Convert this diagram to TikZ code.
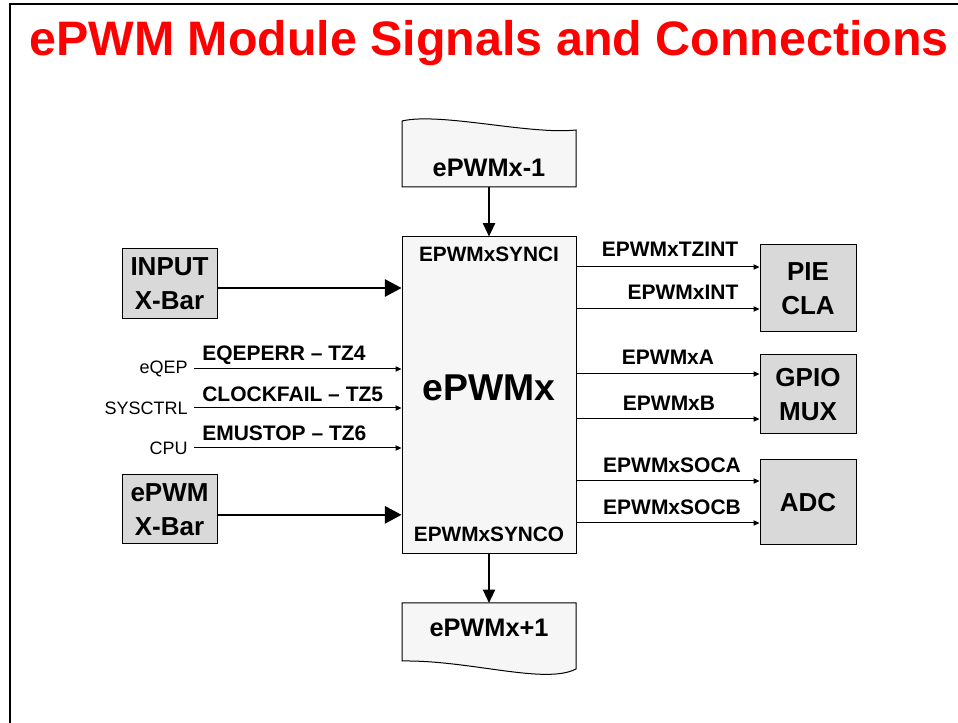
\documentclass[tikz,border=0pt]{standalone}
\usepackage{fontspec}
\setmainfont{Liberation Sans}
\usetikzlibrary{arrows.meta}

\begin{document}
\begin{tikzpicture}[x=0.75pt,y=-0.75pt,
  bus/.style={line width=1.5pt,-{Triangle[length=12.5pt,width=13pt]}},
  sig/.style={line width=0.75pt,-{Triangle[length=4.5pt,width=4pt]}},
  gbox/.style={draw,line width=0.75pt,fill=cbox,minimum width=72pt,inner sep=0pt,
    align=center,font=\fontsize{19.5}{25.5}\selectfont\bfseries},
  sigl/.style={inner sep=0pt,font=\fontsize{15.75}{18}\selectfont\bfseries},
  src/.style={anchor=east,inner xsep=4.5pt,inner ysep=0pt,font=\fontsize{13.5}{16}\selectfont}]
  \definecolor{ctitle}{RGB}{255,0,0}
  \definecolor{cbox}{RGB}{217,217,217}
  \definecolor{cpale}{RGB}{246,246,246}
  \useasboundingbox (0,0) rectangle (958,723);
  \draw[line width=1.5pt] (10,723) -- (10,4) -- (958,4);
  \node[anchor=base,text=ctitle,inner sep=0pt,font=\fontsize{36.3}{40}\selectfont\bfseries]
    (title) at (489,56) {ePWM Module Signals and Connections};
  \node[draw,line width=0.75pt,fill=cpale,minimum width=130.5pt,minimum height=237.75pt]
    (pwm) at (489,395.5) {};
  \node[font=\fontsize{28}{32}\selectfont\bfseries] (pwmname) at (489,388) {ePWMx};
  \node[sigl,font=\fontsize{15.6}{18}\selectfont\bfseries] (synci) at (489,254) {EPWMxSYNCI};
  \node[sigl,font=\fontsize{15.6}{18}\selectfont\bfseries] (synco) at (489,534) {EPWMxSYNCO};
  \filldraw[line width=0.75pt,fill=cpale] (402,121) .. controls (440,112) and (530,135) .. (576,130)
    -- (576,187) -- (402,187) -- cycle;
  \filldraw[line width=0.75pt,fill=cpale] (402,603) -- (576,603) -- (576,669)
    .. controls (545,685) and (470,660) .. (402,661) -- cycle;
  \node[font=\fontsize{19}{22}\selectfont\bfseries] (prev) at (489,168) {ePWMx-1};
  \node[font=\fontsize{19}{22}\selectfont\bfseries] (next) at (489,628) {ePWMx+1};
  \coordinate (prevb) at (489,187);
  \coordinate (nextt) at (489,603);
  \draw[bus,-{Triangle[length=10pt,width=9pt]}] (prevb) -- (pwm.north);
  \draw[bus,-{Triangle[length=10pt,width=9pt]}] (pwm.south) -- (nextt);
  \node[gbox,minimum width=71.25pt,minimum height=52.5pt] (inxbar) at (169.5,284) {INPUT\\X-Bar};
  \node[gbox,minimum width=71.25pt,minimum height=51.75pt] (pwmxbar) at (169.5,509.5) {ePWM\\X-Bar};
  \draw[bus] ([yshift=-3pt]inxbar.east) -- ([yshift=-3pt]inxbar.east -| pwm.west);
  \draw[bus] ([yshift=-4pt]pwmxbar.east) -- ([yshift=-4pt]pwmxbar.east -| pwm.west);
  \node[gbox,minimum height=65.25pt] (pie) at (808,288.5) {PIE\\CLA};
  \node[gbox,minimum height=59.25pt] (gpio) at (808,394.5) {GPIO\\MUX};
  \node[gbox,minimum height=63.75pt] (adc) at (808,502.5) {ADC};
  \foreach \nm/\yy/\txt in {eqep/369/eQEP,sysctrl/408/SYSCTRL,cpu/448/CPU}{%
    \node[src] (\nm) at (194,\yy) {\txt};
    \draw[sig] (\nm.east) -- (\nm.east -| pwm.west);
  }
  \foreach \nm/\yy/\txt in {tzf/355/EQEPERR -- TZ4,ckf/394/CLOCKFAIL -- TZ5,emu/433/EMUSTOP -- TZ6}{%
    \node[sigl,anchor=west] (\nm) at (202,\yy) {\txt};
  }
  \foreach \sy/\dst in {267/pie,309/pie,374/gpio,419/gpio,481/adc,523/adc}{%
    \draw[sig] (pwm.east |- 0,\sy) -- (\dst.west |- 0,\sy);
  }
  \foreach \nm/\xx/\yy/\txt in {tzint/670/249/EPWMxTZINT,xint/683/292/EPWMxINT,
    xa/668/357/EPWMxA,xb/669/403/EPWMxB,soca/672/465/EPWMxSOCA,socb/672/507/EPWMxSOCB}{%
    \node[sigl] (\nm) at (\xx,\yy) {\txt};
  }
\end{tikzpicture}
\end{document}
